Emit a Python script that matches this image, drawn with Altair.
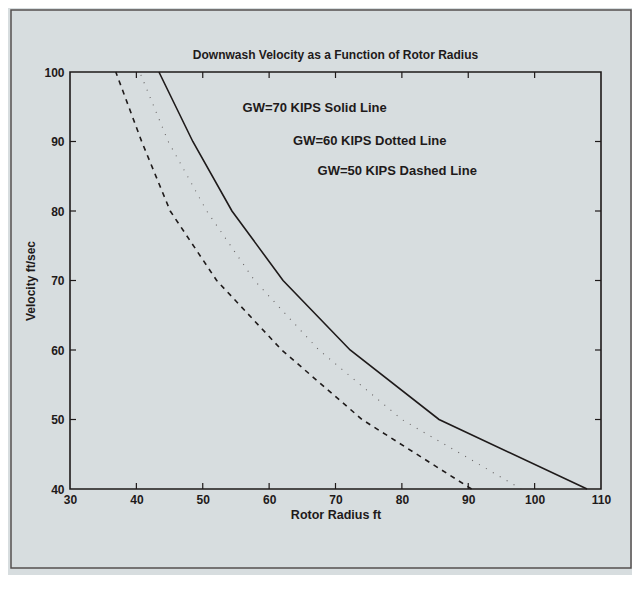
import altair as alt
import pandas as pd

# --- data ---
velocity = [100, 90, 80, 70, 60, 50, 40]
radius_70 = [43.4, 48.5, 54.4, 62.1, 72.2, 85.6, 107.9]   # GW=70 KIPS solid
radius_60 = [40.5, 44.8, 50.6, 57.8, 67.5, 80.0, 98.0]    # GW=60 KIPS dotted
radius_50 = [36.9, 40.8, 45.1, 52.1, 61.9, 74.0, 90.5]    # GW=50 KIPS dashed

x_ticks = [30, 40, 50, 60, 70, 80, 90, 100, 110]
y_ticks = [40, 50, 60, 70, 80, 90, 100]

title_text = "Downwash Velocity as a Function of Rotor Radius"
notes = ["GW=70 KIPS  Solid Line", "GW=60 KIPS Dotted Line", "GW=50 KIPS Dashed Line"]
note_x = [56.0, 63.6, 67.3]
note_y = [94.8, 90.1, 85.8]

FONT = "Liberation Sans"
INK = "#1e1a1a"
BG = "#d7dddf"

df = pd.concat([
    pd.DataFrame({"r": radius_70, "v": velocity, "s": "70"}),
    pd.DataFrame({"r": radius_60, "v": velocity, "s": "60"}),
    pd.DataFrame({"r": radius_50, "v": velocity, "s": "50"}),
])

xs = alt.Scale(domain=[30, 110], nice=False, zero=False)
ys = alt.Scale(domain=[40, 100], nice=False, zero=False)

xax = alt.Axis(values=x_ticks, ticks=False, grid=False, domain=False,
               labelFont=FONT, labelFontSize=12, labelFontWeight="bold",
               labelColor=INK, labelPadding=5, title="Rotor Radius ft",
               titleFont=FONT, titleFontSize=12.5, titleFontWeight="bold",
               titleColor=INK, titlePadding=3, labelFlush=False)
yax = alt.Axis(values=y_ticks, ticks=False, grid=False, domain=False,
               labelFont=FONT, labelFontSize=12, labelFontWeight="bold",
               labelColor=INK, labelPadding=6, title="Velocity ft/sec",
               titleFont=FONT, titleFontSize=12, titleFontWeight="bold",
               titleColor=INK, titlePadding=6, labelFlush=False)

base = alt.Chart(df)

solid = base.transform_filter(alt.datum.s == "70").mark_line(
    color=INK, strokeWidth=1.6).encode(
    x=alt.X("r:Q", scale=xs, axis=xax), y=alt.Y("v:Q", scale=ys, axis=yax),
    order="v:Q")
dotted = base.transform_filter(alt.datum.s == "60").mark_line(
    color="#4a4444", strokeWidth=1.1, strokeDash=[1, 7], opacity=0.8).encode(
    x=alt.X("r:Q", scale=xs), y=alt.Y("v:Q", scale=ys), order="v:Q")
dashed = base.transform_filter(alt.datum.s == "50").mark_line(
    color=INK, strokeWidth=1.6, strokeDash=[5, 5]).encode(
    x=alt.X("r:Q", scale=xs), y=alt.Y("v:Q", scale=ys), order="v:Q")

tx = pd.DataFrame({"t": x_ticks[1:-1]})
ty = pd.DataFrame({"t": y_ticks[1:-1]})
tick_style = dict(color=INK, strokeWidth=1.2)
xt_bottom = alt.Chart(tx).mark_rule(**tick_style).encode(
    x=alt.X("t:Q", scale=xs), y=alt.value(417), y2=alt.value(411))
xt_top = alt.Chart(tx).mark_rule(**tick_style).encode(
    x=alt.X("t:Q", scale=xs), y=alt.value(0), y2=alt.value(6))
yt_left = alt.Chart(ty).mark_rule(**tick_style).encode(
    y=alt.Y("t:Q", scale=ys), x=alt.value(0), x2=alt.value(6))
yt_right = alt.Chart(ty).mark_rule(**tick_style).encode(
    y=alt.Y("t:Q", scale=ys), x=alt.value(531), x2=alt.value(525))

ndf = pd.DataFrame({"txt": notes, "x": note_x, "y": note_y})
text = alt.Chart(ndf).mark_text(
    align="left", baseline="middle", font=FONT, fontSize=13,
    fontWeight="bold", color=INK).encode(
    x=alt.X("x:Q", scale=xs), y=alt.Y("y:Q", scale=ys), text="txt:N")

title = alt.Chart(pd.DataFrame({"txt": [title_text]})).mark_text(
    align="center", baseline="middle", font=FONT, fontSize=12,
    fontWeight="bold", color=INK).encode(
    x=alt.value(265.5), y=alt.value(-17), text="txt:N")

frame = alt.Chart(pd.DataFrame({"a": [0]})).mark_rect(
    filled=False, stroke="#555050", strokeWidth=1.5).encode(
    x=alt.value(-59), x2=alt.value(561), y=alt.value(-62), y2=alt.value(496))

chart = alt.layer(frame, solid, dotted, dashed, xt_bottom, xt_top, yt_left,
                  yt_right, text, title).properties(
    width=531, height=417,
    padding={"left": 62, "top": 64, "right": 31, "bottom": 86},
    autosize=alt.AutoSizeParams(type="none"),
    background=BG,
).configure_view(stroke=INK, strokeWidth=1.6)

chart.save("out.html", embed_options={"renderer": "svg", "actions": False})
